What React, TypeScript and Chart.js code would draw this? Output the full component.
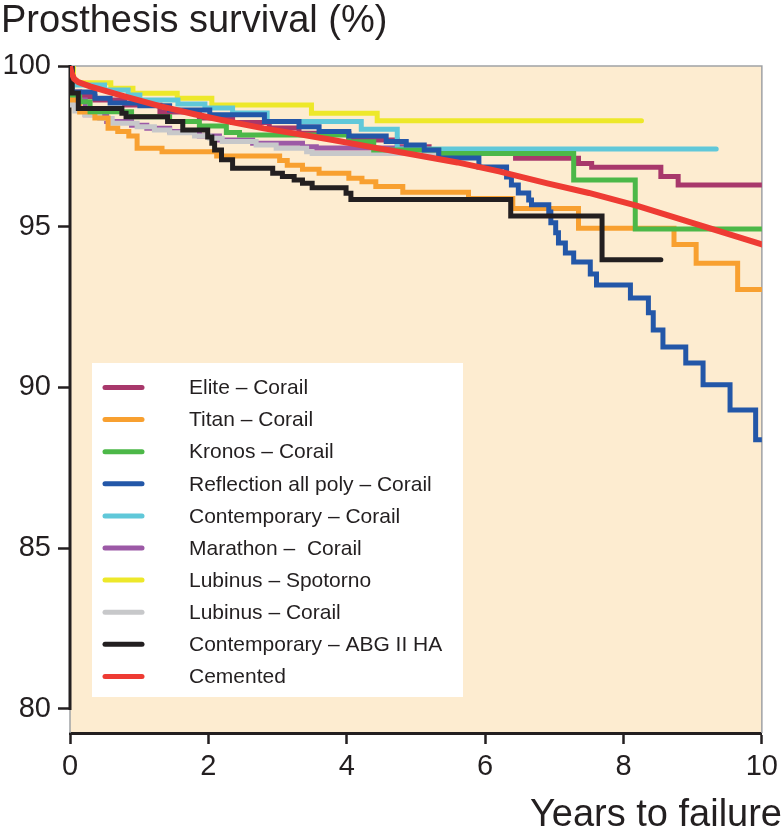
import { useEffect, useRef } from 'react';
import { Chart, registerables } from 'chart.js';

Chart.register(...registerables);

const FONT = '"Liberation Sans", Arial, Helvetica, sans-serif';
const INK = '#231f20';
const BG = '#fdecd0';

const titleText = 'Prosthesis survival (%)';
const xTitleText = 'Years to failure';

const seriesNames = [
  'Elite – Corail',
  'Titan – Corail',
  'Kronos – Corail',
  'Reflection all poly – Corail',
  'Contemporary – Corail',
  'Marathon –  Corail',
  'Lubinus – Spotorno',
  'Lubinus – Corail',
  'Contemporary – ABG II HA',
  'Cemented',
];
const seriesColors = ['#a8386b', '#f8a030', '#4cb848', '#2357a8', '#60c8d9', '#9c59a6', '#ede82a', '#c7c8ca', '#231f20', '#ee3b33'];
const drawOrder = [8, 4, 3, 2, 6, 7, 9, 5, 1, 0];

const xTicks = [0, 2, 4, 6, 8, 10];
const yTicks = [80, 85, 90, 95, 100];

const eliteT = [0, 0.03, 0.14, 0.36, 0.79, 1.30, 1.87, 2.35, 2.88, 3.31, 4.03, 4.73, 5.19, 6.44, 7.35, 7.54, 8.54, 8.79, 10];
const eliteS = [100, 99.19, 99.05, 98.94, 98.79, 98.57, 98.38, 98.24, 98.07, 97.91, 97.70, 97.49, 97.33, 97.13, 96.97, 96.85, 96.56, 96.30, 96.30];

const titanT = [0, 0.03, 0.14, 0.36, 0.55, 0.69, 0.85, 0.97, 1.33, 2.12, 3.03, 3.14, 3.36, 3.60, 4.03, 4.22, 4.42, 4.81, 5.76, 6.40, 7.35, 8.73, 9.05, 9.65, 10];
const titanS = [100, 98.94, 98.57, 98.38, 98.06, 97.96, 97.82, 97.44, 97.33, 97.20, 97.06, 96.91, 96.79, 96.66, 96.51, 96.40, 96.25, 96.07, 95.88, 95.57, 94.95, 94.45, 93.86, 93.05, 93.05];

const kronosT = [0, 0.03, 0.14, 0.29, 0.89, 1.44, 1.87, 2.26, 2.45, 4.03, 4.39, 5.33, 7.28, 8.17, 10];
const kronosS = [100, 99.10, 98.89, 98.58, 98.42, 98.27, 98.13, 97.93, 97.85, 97.64, 97.39, 97.28, 96.45, 94.93, 94.93];

const reflT = [0, 0.03, 0.36, 0.58, 1.01, 1.44, 2.02, 2.81, 3.31, 3.60, 4.03, 4.57, 4.86, 5.12, 5.33, 5.91, 6.31, 6.38, 6.48, 6.63, 6.67, 6.92, 6.95, 7.02, 7.06, 7.16, 7.28, 7.52, 7.61, 8.10, 8.36, 8.43, 8.57, 8.90, 9.15, 9.54, 9.91, 10];
const reflS = [100, 99.19, 99.00, 98.85, 98.76, 98.63, 98.48, 98.27, 98.11, 97.96, 97.82, 97.65, 97.54, 97.39, 97.14, 96.86, 96.55, 96.30, 96.05, 95.83, 95.68, 95.46, 95.12, 94.81, 94.49, 94.18, 93.90, 93.53, 93.19, 92.78, 92.32, 91.79, 91.26, 90.76, 90.08, 89.30, 88.37, 88.37];

const contT = [0, 0.03, 0.50, 0.84, 1.01, 1.56, 1.95, 2.35, 2.85, 4.21, 4.73, 9.34];
const contS = [100, 99.41, 99.25, 99.10, 98.94, 98.82, 98.69, 98.54, 98.27, 98.03, 97.42, 97.42];

const marT = [0, 0.03, 0.22, 0.53, 0.89, 1.11, 1.44, 1.87, 2.16, 2.64, 3.36, 3.56, 4.86];
const marS = [100, 98.94, 98.48, 98.27, 98.16, 98.06, 97.96, 97.82, 97.70, 97.60, 97.49, 97.45, 97.45];

const lubSpoT = [0, 0.05, 0.59, 0.91, 1.55, 2.05, 3.49, 4.44, 8.26];
const lubSpoS = [100, 99.48, 99.31, 99.15, 99.00, 98.79, 98.53, 98.30, 98.30];

const lubCorT = [0, 0.03, 0.07, 0.22, 0.43, 0.61, 0.97, 1.22, 1.44, 1.80, 2.02, 2.20, 2.69, 2.98, 3.42, 3.50, 6.92];
const lubCorS = [100, 98.79, 98.60, 98.48, 98.37, 98.22, 98.11, 98.01, 97.92, 97.82, 97.75, 97.65, 97.54, 97.44, 97.33, 97.28, 97.28];

const abgT = [0, 0.03, 0.12, 0.75, 0.81, 1.41, 1.63, 1.99, 2.05, 2.09, 2.19, 2.35, 2.93, 3.07, 3.24, 3.36, 3.50, 3.99, 4.06, 6.37, 7.69, 8.54];
const abgS = [100, 99.16, 98.68, 98.53, 98.42, 98.27, 98.01, 97.79, 97.60, 97.39, 97.08, 96.82, 96.66, 96.56, 96.45, 96.35, 96.21, 96.04, 95.85, 95.33, 93.97, 93.97];

const cemT = [0, 0.02, 0.06, 0.12, 0.3, 0.8, 1.3, 1.8, 2.3, 2.8, 3.3, 3.8, 4.4, 5.0, 5.6, 6.2, 6.9, 7.5, 8.2, 9.1, 10];
const cemS = [100, 99.8, 99.6, 99.5, 99.36, 99.05, 98.75, 98.5, 98.27, 98.06, 97.88, 97.7, 97.46, 97.23, 97.0, 96.72, 96.35, 96.05, 95.65, 95.05, 94.45];

const seriesT = [eliteT, titanT, kronosT, reflT, contT, marT, lubSpoT, lubCorT, abgT, cemT];
const seriesS = [eliteS, titanS, kronosS, reflS, contS, marS, lubSpoS, lubCorS, abgS, cemS];

const toPoints = (t: number[], s: number[]) => t.map((x, i) => ({ x, y: s[i] }));

const decorPlugin = {
  id: 'decor',
  beforeDraw(chart: any) {
    const { ctx, chartArea: a } = chart;
    ctx.save();
    ctx.fillStyle = BG;
    ctx.fillRect(a.left, a.top, a.right - a.left, a.bottom - a.top);
    ctx.restore();
  },
  beforeDatasetsDraw(chart: any) {
    const { ctx, chartArea: a } = chart;
    const y = chart.scales.y;
    const y100 = y.getPixelForValue(100);
    const y80 = y.getPixelForValue(80);
    ctx.save();
    ctx.strokeStyle = '#a0a2a5';
    ctx.lineWidth = 1.5;
    ctx.beginPath();
    ctx.moveTo(a.left, a.top);
    ctx.lineTo(a.right, a.top);
    ctx.lineTo(a.right, a.bottom);
    ctx.moveTo(a.left, y80);
    ctx.lineTo(a.left, a.bottom);
    ctx.stroke();
    ctx.strokeStyle = INK;
    ctx.lineWidth = 3;
    ctx.beginPath();
    ctx.moveTo(a.left, y100 - 1);
    ctx.lineTo(a.left, y80 + 1);
    ctx.stroke();
    ctx.restore();
  },
  afterDatasetsDraw(chart: any) {
    const { ctx, chartArea: a } = chart;
    const bx = a.left + 22;
    const by = a.top + 297;
    ctx.save();
    ctx.fillStyle = '#ffffff';
    ctx.fillRect(bx, by, 371, 334);
    ctx.font = '21px ' + FONT;
    ctx.textBaseline = 'middle';
    ctx.textAlign = 'left';
    chart.data.datasets.forEach((ds: any, i: number) => {
      const cy = by + 24.5 + i * 32.1;
      ctx.strokeStyle = ds.borderColor;
      ctx.lineWidth = 5;
      ctx.lineCap = 'round';
      ctx.beginPath();
      ctx.moveTo(bx + 13, cy);
      ctx.lineTo(bx + 50, cy);
      ctx.stroke();
      ctx.fillStyle = INK;
      ctx.fillText(ds.label, bx + 97, cy + 1);
    });
    ctx.restore();
  },
  afterDraw(chart: any) {
    const { ctx } = chart;
    ctx.save();
    ctx.fillStyle = INK;
    ctx.font = '38px ' + FONT;
    ctx.textBaseline = 'alphabetic';
    ctx.textAlign = 'left';
    ctx.fillText(titleText, 1, 32);
    ctx.textAlign = 'right';
    ctx.fillText(xTitleText, 782, 826);
    ctx.restore();
  },
};

export default function App() {
  const ref = useRef<HTMLCanvasElement>(null);
  useEffect(() => {
    const canvas = ref.current;
    if (!canvas) return;
    const datasets = seriesNames.map((name, i) => ({
      label: name,
      data: toPoints(seriesT[i], seriesS[i]),
      borderColor: seriesColors[i],
      backgroundColor: seriesColors[i],
      borderWidth: i === 9 ? 6 : 5,
      pointRadius: 0,
      stepped: i === 9 ? false : ('before' as const),
      tension: 0,
      fill: false,
      borderCapStyle: 'round' as const,
      borderJoinStyle: 'miter' as const,
      order: drawOrder[i],
    }));
    const chart = new Chart(canvas, {
      type: 'line',
      data: { datasets },
      plugins: [decorPlugin],
      options: {
        animation: false,
        responsive: true,
        maintainAspectRatio: false,
        events: [],
        layout: { padding: { top: 66, right: 20, left: 0, bottom: 0 } },
        plugins: {
          legend: { display: false },
          tooltip: { enabled: false },
          title: { display: false },
        },
        scales: {
          x: {
            type: 'linear',
            min: 0,
            max: 10,
            afterFit: (s: any) => { s.height = 98; },
            afterBuildTicks: (s: any) => { s.ticks = xTicks.map((v) => ({ value: v })); },
            grid: { drawOnChartArea: false, drawTicks: true, tickLength: 11, tickWidth: 2.5, tickColor: INK, color: INK },
            border: { display: true, color: INK, width: 3 },
            ticks: { color: INK, font: { family: FONT, size: 29 }, padding: 6, maxRotation: 0, callback: (v: any) => String(v) },
          },
          y: {
            type: 'linear',
            min: 79.25,
            max: 100,
            afterFit: (s: any) => { s.width = 70; },
            afterBuildTicks: (s: any) => { s.ticks = yTicks.map((v) => ({ value: v })); },
            grid: { drawOnChartArea: false, drawTicks: true, tickLength: 12, tickWidth: 2.5, tickColor: INK, color: INK },
            border: { display: false },
            ticks: { color: INK, font: { family: FONT, size: 29 }, padding: 7, callback: (v: any) => String(v) },
          },
        },
      },
    });
    return () => chart.destroy();
  }, []);
  return (
    <div style={{ position: 'absolute', left: 0, top: 0, width: 784, height: 831, background: '#ffffff' }}>
      <canvas ref={ref} />
    </div>
  );
}
